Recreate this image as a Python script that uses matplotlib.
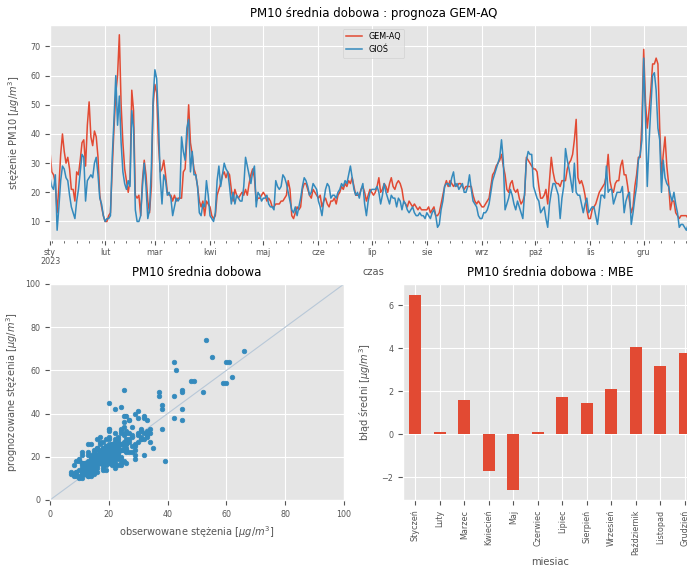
import matplotlib
matplotlib.use('Agg')
import matplotlib.pyplot as plt
import matplotlib.dates as mdates
import pandas as pd

plt.style.use('ggplot')
plt.rcParams['font.family'] = ['DejaVu Sans']
plt.rcParams['font.size'] = 5.8
plt.rcParams['axes.titlesize'] = 8.5
plt.rcParams['axes.labelsize'] = 7.1
plt.rcParams['legend.fontsize'] = 5.8

# dobowe stężenia PM10 w 2023, jeden wiersz = jeden miesiąc
gem_aq = [
    34, 27, 26, 23, 13, 22, 33, 40, 34, 30, 32, 28, 21, 21, 17, 27, 26, 31, 37, 38, 29, 43, 51, 39, 36, 41, 39, 32, 19, 15, 12,
    10, 10, 12, 13, 28, 42, 54, 60, 74, 50, 37, 28, 24, 20, 24, 55, 48, 19, 18, 19, 12, 24, 31, 26, 17, 13, 22, 50,
    57, 54, 37, 27, 28, 31, 26, 20, 19, 19, 17, 19, 17, 18, 18, 18, 27, 28, 38, 50, 37, 33, 28, 26, 22, 17, 15, 17, 12, 17, 16,
    15, 12, 11, 12, 19, 21, 23, 26, 27, 25, 27, 26, 21, 17, 21, 19, 18, 19, 20, 19, 21, 19, 23, 26, 28, 25, 17, 18, 18, 19,
    20, 19, 17, 18, 17, 15, 15, 16, 16, 16, 17, 17, 18, 19, 24, 21, 12, 11, 13, 15, 14, 15, 21, 23, 23, 21, 19, 18, 21, 20, 19,
    18, 19, 15, 17, 18, 16, 15, 17, 17, 18, 16, 19, 20, 22, 21, 23, 22, 24, 23, 25, 22, 19, 19, 19, 21, 22, 20, 17, 19, 21,
    20, 19, 20, 22, 25, 20, 21, 23, 22, 20, 23, 25, 22, 21, 23, 24, 23, 21, 17, 16, 15, 17, 16, 15, 16, 15, 14, 15, 14, 14, 14,
    14, 15, 13, 14, 15, 12, 12, 13, 16, 19, 22, 24, 22, 24, 23, 22, 23, 22, 23, 23, 22, 21, 22, 22, 22, 22, 19, 17, 16, 17, 16,
    15, 15, 16, 17, 18, 22, 26, 27, 29, 30, 31, 33, 29, 26, 21, 20, 23, 24, 21, 20, 21, 18, 16, 17, 19, 32, 31, 30, 29, 28,
    28, 27, 22, 18, 18, 19, 21, 16, 24, 32, 27, 24, 23, 23, 22, 24, 24, 24, 28, 30, 31, 33, 38, 45, 25, 23, 24, 22, 19, 14, 11,
    11, 14, 15, 16, 18, 20, 21, 22, 23, 26, 33, 24, 21, 20, 23, 24, 24, 29, 31, 26, 26, 22, 17, 13, 15, 22, 26, 32, 32, 44,
    69, 51, 42, 48, 55, 64, 64, 66, 64, 42, 26, 33, 39, 29, 23, 14, 17, 17, 13, 12, 11, 12, 12, 12, 12, 11, 13, 14, 12, 15, 17,
]
gios = [
    25, 22, 21, 26, 7, 15, 24, 29, 28, 25, 24, 19, 15, 13, 11, 17, 21, 27, 33, 32, 17, 24, 25, 26, 25, 30, 32, 26, 18, 16, 12,
    10, 11, 11, 12, 32, 45, 60, 43, 53, 37, 27, 23, 21, 24, 22, 48, 42, 14, 10, 10, 12, 22, 30, 22, 11, 14, 28, 52,
    62, 59, 45, 25, 16, 26, 24, 19, 20, 18, 12, 15, 18, 17, 18, 39, 34, 31, 42, 45, 27, 34, 26, 26, 22, 13, 12, 16, 15, 24, 19,
    12, 11, 10, 13, 24, 29, 22, 26, 30, 28, 27, 22, 16, 20, 16, 19, 18, 17, 17, 22, 32, 29, 26, 23, 27, 29, 15, 20, 19, 17,
    18, 18, 19, 16, 15, 15, 14, 24, 22, 21, 22, 26, 25, 23, 20, 17, 14, 13, 15, 12, 15, 18, 22, 25, 24, 22, 19, 20, 23, 22, 21,
    17, 15, 12, 17, 21, 23, 22, 18, 19, 19, 18, 20, 21, 23, 22, 24, 23, 26, 29, 25, 21, 19, 20, 18, 21, 23, 16, 12, 17, 20,
    21, 21, 21, 22, 20, 16, 19, 23, 20, 18, 16, 19, 18, 18, 15, 18, 17, 14, 17, 16, 14, 13, 14, 15, 13, 12, 12, 13, 12, 12, 11,
    13, 12, 11, 13, 14, 12, 8, 9, 14, 17, 22, 23, 23, 22, 25, 27, 22, 23, 21, 22, 23, 20, 20, 22, 26, 21, 17, 16, 15, 12, 11,
    11, 13, 13, 14, 16, 20, 24, 26, 28, 30, 32, 38, 31, 14, 16, 18, 21, 19, 16, 14, 17, 15, 13, 11, 20, 31, 34, 33, 33, 22,
    20, 18, 17, 13, 14, 15, 11, 8, 16, 20, 23, 23, 21, 19, 11, 18, 22, 35, 31, 28, 24, 20, 30, 20, 19, 19, 16, 13, 16, 18, 13,
    14, 15, 15, 12, 9, 14, 19, 19, 18, 29, 20, 21, 21, 16, 18, 20, 20, 20, 22, 13, 17, 19, 20, 9, 13, 18, 22, 31, 33, 38,
    66, 45, 22, 37, 49, 60, 61, 55, 42, 38, 20, 31, 25, 23, 22, 19, 17, 20, 16, 13, 8, 9, 9, 8, 7, 9, 11, 10, 12, 14, 13,
]

month_ticks = ['sty\n2023', 'lut', 'mar', 'kwi', 'maj', 'cze',
               'lip', 'sie', 'wrz', 'paź', 'lis', 'gru']
month_names = ['Styczeń', 'Luty', 'Marzec', 'Kwiecień', 'Maj', 'Czerwiec',
               'Lipiec', 'Sierpień', 'Wrzesień', 'Październik', 'Listopad', 'Grudzień']
mbe = [6.5, 0.12, 1.6, -1.7, -2.6, 0.1, 1.75, 1.45, 2.1, 4.05, 3.2, 3.8]

days = pd.date_range('2023-01-01', periods=len(gem_aq), freq='D')
month_starts = pd.date_range('2023-01-01', periods=12, freq='MS')

fig = plt.figure(figsize=(6.87, 5.67), dpi=100)
ax1 = fig.add_axes([0.0728, 0.5767, 0.9418, 0.3792])
ax2 = fig.add_axes([0.0728, 0.1182, 0.428, 0.381])
ax3 = fig.add_axes([0.5866, 0.1182, 0.428, 0.381])

# przebieg czasowy
ax1.plot(days, gem_aq, color='#E24A33', lw=1.1, label='GEM-AQ')
ax1.plot(days, gios, color='#348ABD', lw=1.1, label='GIOŚ')
ax1.set_xlim(days[0], days[-1])
ax1.set_xticks(month_starts)
ax1.set_xticklabels(month_ticks, linespacing=1.0)
ax1.xaxis.set_minor_locator(mdates.WeekdayLocator(byweekday=mdates.MO))
ax1.tick_params(axis='x', pad=2)
ax1.set_yticks([10, 20, 30, 40, 50, 60, 70])
ax1.set_title('PM10 średnia dobowa : prognoza GEM-AQ')
ax1.set_ylabel(r'stężenie PM10 [$\mu g/m^3$]', labelpad=6)
ax1.set_xlabel('czas', labelpad=1)
ax1.legend(loc='upper center')

# rozrzut prognoza vs pomiar
ax2.plot([0, 100], [0, 100], color='#b8c8d8', lw=0.8)
ax2.scatter(gios, gem_aq, s=11, color='#348ABD', zorder=3)
ax2.set_xlim(0, 100)
ax2.set_ylim(0, 100)
ax2.set_title('PM10 średnia dobowa')
ax2.set_xlabel(r'obserwowane stężenia [$\mu g/m^3$]')
ax2.set_ylabel(r'prognozowane stężenia [$\mu g/m^3$]')

# MBE w poszczególnych miesiącach
pos = range(len(mbe))
ax3.bar(pos, mbe, width=0.5, color='#E24A33')
ax3.set_xlim(-0.5, len(mbe) - 0.5)
ax3.set_ylim(-3.05, 7.0)
ax3.set_xticks(list(pos))
ax3.set_xticklabels(month_names, rotation=90)
ax3.set_yticks([-2, 0, 2, 4, 6])
ax3.set_title('PM10 średnia dobowa : MBE')
ax3.set_xlabel('miesiac', labelpad=1)
ax3.set_ylabel(r'błąd średni [$\mu g/m^3$]', labelpad=6)

fig.savefig('out.png', dpi=100)
